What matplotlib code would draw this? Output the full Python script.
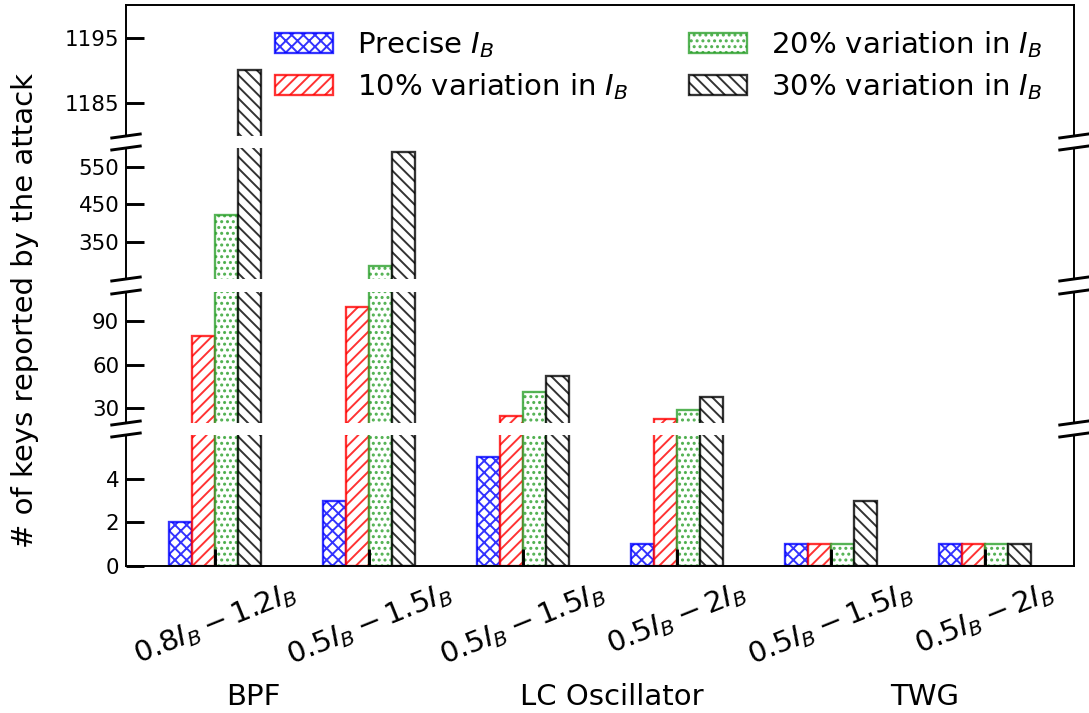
import matplotlib
matplotlib.use("Agg")
import matplotlib.pyplot as plt
from matplotlib.transforms import blended_transform_factory
import numpy as np

# ---- data ----
range_labels = [r"$0.8I_B-1.2I_B$", r"$0.5I_B-1.5I_B$", r"$0.5I_B-1.5I_B$",
                r"$0.5I_B-2I_B$", r"$0.5I_B-1.5I_B$", r"$0.5I_B-2I_B$"]
circuits = ["BPF", "LC Oscillator", "TWG"]
circuit_pos = [0.25, 2.58, 4.61]
series_names = [r"Precise $I_B$", r"10% variation in $I_B$",
                r"20% variation in $I_B$", r"30% variation in $I_B$"]
precise = [2, 3, 5, 1, 1, 1]
var10 = [80, 100, 25, 23, 1, 1]
var20 = [420, 285, 41, 29, 1, 1]
var30 = [1190, 590, 52, 38, 3, 1]

seg_ylims = [(1180, 1200), (250, 600), (20, 110), (0, 6)]
seg_yticks = [[1185, 1195], [350, 450, 550], [30, 60, 90], [0, 2, 4]]

colors = ["blue", "red", "tab:green", "black"]
hatches = ["xxxx", "////", "....", "\\\\\\\\"]

plt.rcParams["hatch.linewidth"] = 1.0

W, H, DPI = 1089, 713, 140
fig = plt.figure(figsize=(W / DPI, H / DPI), dpi=DPI)

x = np.arange(len(range_labels))
w = 0.15
series = [precise, var10, var20, var30]

tops = [5, 148, 292, 435]
ax_h = 131
axes = []
for i, top in enumerate(tops):
    ax = fig.add_axes([126 / W, 1 - (top + ax_h) / H, 948 / W, ax_h / H])
    for j, vals in enumerate(series):
        ax.bar(x + (j - 1.5) * w, vals, w, color="white", edgecolor=colors[j],
               hatch=hatches[j], lw=1.2, alpha=0.8, label=series_names[j])
    ax.set_xlim(-0.58, 5.58)
    ax.set_ylim(*seg_ylims[i])
    ax.set_yticks(seg_yticks[i])
    ax.tick_params(axis="y", direction="in", length=9, width=1.5,
                   labelsize=11, right=False)
    for s in ax.spines.values():
        s.set_linewidth(1.0)
    if i > 0:
        ax.spines["top"].set_visible(False)
    if i < 3:
        ax.spines["bottom"].set_visible(False)
        ax.tick_params(axis="x", bottom=False, labelbottom=False)
    axes.append(ax)

# bottom axis ticks / labels
ax4 = axes[-1]
ax4.set_xticks(x)
ax4.set_xticklabels(range_labels, rotation=22, fontsize=15)
ax4.tick_params(axis="x", direction="in", length=9, width=1.5, pad=6, top=False)

# break marks
d = 0.015
kw = dict(color="k", clip_on=False, lw=1.5)
for i, ax in enumerate(axes):
    if i < 3:
        ax.plot((-d, d), (-d, d), transform=ax.transAxes, **kw)
        ax.plot((1 - d, 1 + d), (-d, d), transform=ax.transAxes, **kw)
    if i > 0:
        ax.plot((-d, d), (1 - d, 1 + d), transform=ax.transAxes, **kw)
        ax.plot((1 - d, 1 + d), (1 - d, 1 + d), transform=ax.transAxes, **kw)

# circuit names
trans = blended_transform_factory(ax4.transData, fig.transFigure)
for name, pos in zip(circuits, circuit_pos):
    ax4.text(pos, 1 - 705 / H, name, transform=trans, ha="center",
             va="baseline", fontsize=15)

fig.text(25 / W, 1 - 310 / H, "# of keys reported by the attack",
         rotation=90, ha="center", va="center", fontsize=15)

handles, labels = axes[0].get_legend_handles_labels()
fig.legend(handles, labels, loc="upper left", bbox_to_anchor=(275 / W, 1 - 29 / H),
           ncol=2, frameon=False, fontsize=15, borderpad=0, borderaxespad=0,
           columnspacing=2.1, handletextpad=0.8, labelspacing=0.4)

fig.savefig("out.png", dpi=DPI)
